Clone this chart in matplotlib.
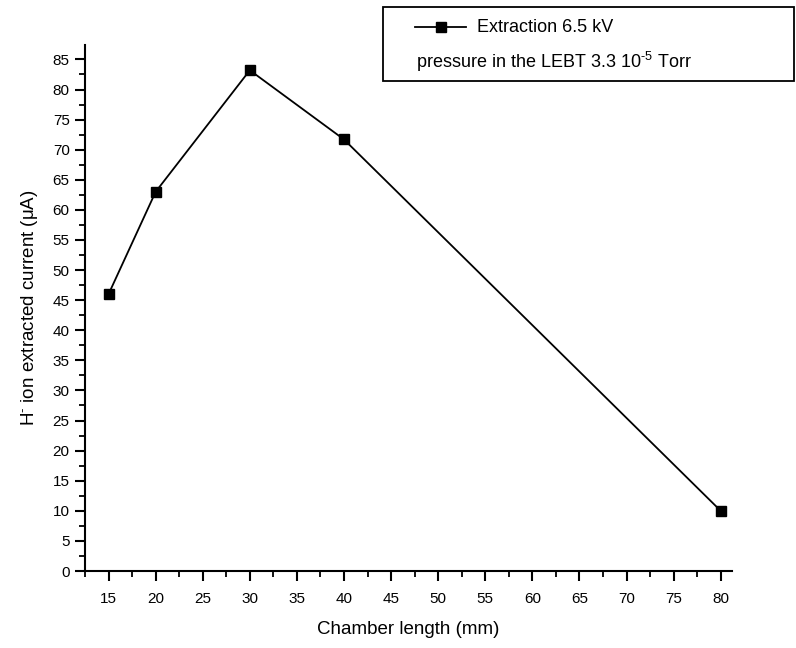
import matplotlib.pyplot as plt
from matplotlib.lines import Line2D
from matplotlib.patches import Rectangle
from matplotlib.ticker import MultipleLocator

plt.rcParams['font.family'] = ['Liberation Sans', 'DejaVu Sans']
plt.rcParams['mathtext.fontset'] = 'custom'
plt.rcParams['mathtext.rm'] = 'Liberation Sans'
plt.rcParams['mathtext.it'] = 'Liberation Sans:italic'
plt.rcParams['mathtext.bf'] = 'Liberation Sans:bold'

# chamber length (mm) vs extracted H- current (uA)
chamber_length = [15, 20, 30, 40, 80]
current_uA = [46.0, 63.0, 83.2, 71.7, 10.0]

legend_label = "Extraction 6.5 kV"
legend_note = r"pressure in the LEBT 3.3 10$^{\text{-}5}$ Torr"
x_label = "Chamber length (mm)"
y_label = "H$^{\\text{-}}$ ion extracted current (\u03bcA)"

fig = plt.figure(figsize=(7.96, 6.48), dpi=100)
ax = fig.add_axes([0.1068, 0.1188, 0.8128, 0.8118])

ax.plot(chamber_length, current_uA, color='black', lw=1.3,
        marker='s', markersize=7, markerfacecolor='black')

ax.set_xlim(12.5, 81.2)
ax.set_ylim(0, 87.4)
ax.set_xticks(range(15, 85, 5))
ax.xaxis.set_minor_locator(MultipleLocator(2.5))
ax.yaxis.set_major_locator(MultipleLocator(5))
ax.yaxis.set_minor_locator(MultipleLocator(2.5))

for side in ('top', 'right'):
    ax.spines[side].set_visible(False)
for side in ('left', 'bottom'):
    ax.spines[side].set_linewidth(1.5)

ax.tick_params(which='major', direction='out', length=7, width=1.5,
               labelsize=11, pad=4)
ax.tick_params(which='minor', direction='out', length=4, width=1.3)
ax.tick_params(axis='x', which='major', pad=8)

ax.set_xlabel(x_label, fontsize=13.5, labelpad=11)
ax.set_ylabel(y_label, fontsize=13.5, labelpad=9)

# boxed legend in the upper right corner
W, H = fig.get_size_inches() * fig.dpi
fig.patches.append(Rectangle((383 / W, 1 - 81 / H), 411 / W, 74 / H,
                             transform=fig.transFigure, fill=False,
                             edgecolor='black', lw=1.3))
fig.lines.append(Line2D([415 / W, 466 / W], [1 - 27 / H, 1 - 27 / H],
                        transform=fig.transFigure, color='black', lw=1.3))
fig.lines.append(Line2D([440.5 / W], [1 - 27 / H], transform=fig.transFigure,
                        color='black', marker='s', markersize=7, ls='None'))
fig.text(477 / W, 1 - 27 / H, legend_label, fontsize=13, va='center')
fig.text(416 / W, 1 - 62 / H, legend_note, fontsize=13, va='center')

fig.savefig("out.png", dpi=100)
